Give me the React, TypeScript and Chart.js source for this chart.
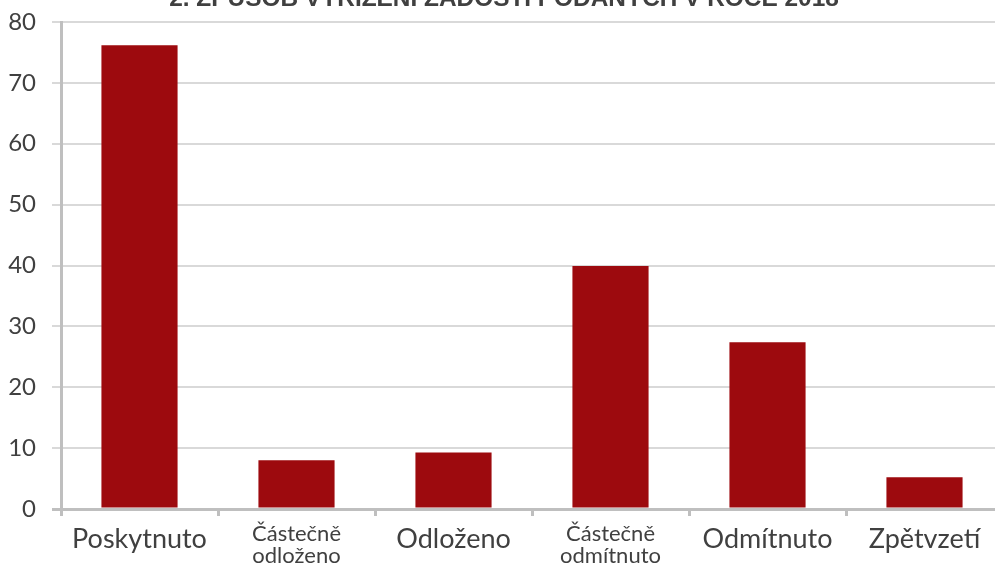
import React, { useEffect, useRef } from "react";
import { Chart, registerables } from "chart.js";

Chart.register(...registerables);

const titleText = "2. ZPŮSOB VYŘÍZENÍ ŽÁDOSTÍ PODANÝCH V ROCE 2018";
const categories: string[][] = [
  ["Poskytnuto"],
  ["Částečně", "odloženo"],
  ["Odloženo"],
  ["Částečně", "odmítnuto"],
  ["Odmítnuto"],
  ["Zpětvzetí"],
];
const values = [76.2, 8.0, 9.3, 39.9, 27.4, 5.2];
const yMin = 0;
const yMax = 80;
const yStep = 10;

const FONT = "Lato";
const TEXT = "#404040";
const AXIS = "#bfbfbf";
const GRID = "#d9d9d9";
const BAR = "#9d0a0e";

const titlePlugin = {
  id: "croppedTitle",
  afterDraw(chart: any) {
    const ctx = chart.ctx;
    ctx.save();
    ctx.font = 'bold 24.4px "Liberation Sans"';
    ctx.fillStyle = TEXT;
    ctx.textAlign = "center";
    ctx.textBaseline = "alphabetic";
    ctx.fillText(titleText, 504, 6);
    ctx.restore();
  },
};

export default function App() {
  const ref = useRef<HTMLCanvasElement | null>(null);
  useEffect(() => {
    if (!ref.current) return;
    const chart = new Chart(ref.current, {
      type: "bar",
      data: {
        labels: categories,
        datasets: [
          {
            data: values,
            backgroundColor: BAR,
            borderWidth: 0,
            barPercentage: 0.485,
            categoryPercentage: 1,
          },
        ],
      },
      options: {
        responsive: false,
        animation: false,
        layout: { padding: { left: 0, top: 22, right: 7, bottom: 0 } },
        plugins: {
          legend: { display: false },
          title: { display: false },
          tooltip: { enabled: false },
        },
        scales: {
          x: {
            offset: true,
            grid: {
              offset: true,
              drawOnChartArea: false,
              drawTicks: true,
              tickLength: 7,
              color: AXIS,
              lineWidth: 3,
            },
            border: { display: true, color: AXIS, width: 3 },
            ticks: {
              color: TEXT,
              padding: 7,
              maxRotation: 0,
              autoSkip: false,
              font: (ctx: any) =>
                categories[ctx.index] && categories[ctx.index].length > 1
                  ? { family: FONT, size: 22, lineHeight: 1.0 }
                  : { family: FONT, size: 27, lineHeight: 1.2 },
            },
            afterFit: (scale: any) => {
              scale.height = 54;
            },
          },
          y: {
            min: yMin,
            max: yMax,
            grid: {
              color: (ctx: any) => (ctx.tick && ctx.tick.value === 0 ? AXIS : GRID),
              lineWidth: (ctx: any) => (ctx.tick && ctx.tick.value === 0 ? 3 : 2),
              tickLength: 9,
              drawTicks: true,
            },
            border: { display: true, color: AXIS, width: 3 },
            ticks: {
              stepSize: yStep,
              color: TEXT,
              padding: 16,
              font: { family: FONT, size: 24 },
            },
            afterFit: (scale: any) => {
              scale.width = 61;
              scale.paddingTop = 0;
              scale.paddingBottom = 0;
            },
          },
        },
      },
      plugins: [titlePlugin],
    });
    return () => chart.destroy();
  }, []);

  return (
    <div
      style={{
        position: "fixed",
        left: 0,
        top: 0,
        width: 995,
        height: 563,
        overflow: "hidden",
        background: "#ffffff",
      }}
    >
      <canvas ref={ref} width={1010} height={563} style={{ position: "absolute", left: 0, top: 0 }} />
    </div>
  );
}
